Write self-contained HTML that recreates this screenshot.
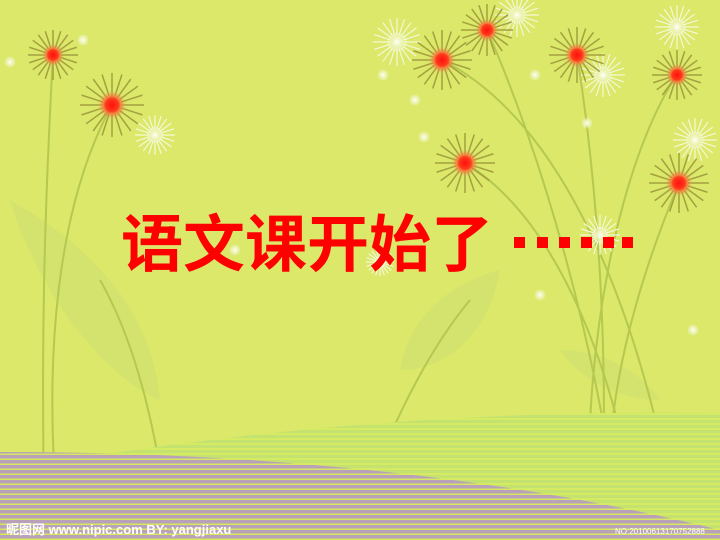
<!DOCTYPE html>
<html><head><meta charset="utf-8"><style>
html,body{margin:0;padding:0;width:720px;height:540px;overflow:hidden;background:#dbe86a}
svg{display:block}
</style></head><body>
<svg id="s" width="720" height="540" viewBox="0 0 720 540">
<defs>
<radialGradient id="rg"><stop offset="0" stop-color="#ff1010"/><stop offset="0.45" stop-color="#ff3a1a"/><stop offset="1" stop-color="#f0b060" stop-opacity="0"/></radialGradient>
<radialGradient id="wg"><stop offset="0" stop-color="#ffffff"/><stop offset="0.4" stop-color="#f4f8d0" stop-opacity="0.8"/><stop offset="1" stop-color="#ffffff" stop-opacity="0"/></radialGradient>
<pattern id="stripeP" width="4" height="5" patternUnits="userSpaceOnUse"><rect width="4" height="5" fill="#b9a2b9"/><rect y="3.5" width="4" height="1.5" fill="#d6e85e"/></pattern>
<pattern id="stripeG" width="4" height="5" patternUnits="userSpaceOnUse"><rect width="4" height="5" fill="#c4e270"/><rect y="3" width="4" height="2" fill="#d6ea62"/></pattern>
</defs>
<g id="leaves" fill="#cfe070" opacity="0.6">
<path d="M10,200 C80,240 150,300 160,400 C110,380 40,300 10,200Z"/>
<path d="M400,370 C410,310 460,280 500,270 C490,330 450,370 400,370Z"/>
<path d="M560,350 C600,350 640,370 660,400 C620,400 580,380 560,350Z"/>
</g>
<g id="stems" fill="none" stroke="#b5c850" stroke-width="2">
<path d="M53,55 C45,200 40,350 45,540"/>
<path d="M112,105 C60,200 40,350 60,540"/>
<path d="M442,60 C560,120 640,300 680,540"/>
<path d="M487,30 C540,150 600,350 620,540"/>
<path d="M577,55 C600,200 610,380 600,540"/>
<path d="M677,75 C620,160 580,350 590,540"/>
<path d="M465,163 C560,220 620,380 640,540"/>
<path d="M679,183 C630,300 600,420 610,540"/>
<path d="M100,280 C140,350 160,450 170,540"/>
<path d="M470,300 C420,360 380,450 350,540"/>
</g>
<path d="M100,455 C300,425 500,410 720,413 L720,540 L100,540Z" fill="url(#stripeG)"/>
<path d="M0,452 C250,452 500,475 720,530 L720,540 L0,540Z" fill="url(#stripeP)"/>
<g id="fl"></g>
<text x="121" y="266" font-family="'Liberation Sans','Noto Sans CJK SC',sans-serif" font-weight="bold" font-size="62" fill="#ff0000">语文课开始了</text>
<g fill="#ff0000">
<rect x="514" y="237" width="11" height="11"/><rect x="537" y="237" width="11" height="11"/><rect x="559" y="237" width="11" height="11"/><rect x="581" y="237" width="11" height="11"/><rect x="603" y="237" width="11" height="11"/><rect x="622" y="237" width="11" height="11"/>
</g>
<text x="6" y="534" font-family="'Liberation Sans','Noto Sans CJK SC',sans-serif" font-size="13" font-weight="bold" fill="#ffffff">昵图网 www.nipic.com   BY: yangjiaxu</text>
<text x="615" y="534" font-family="'Liberation Sans',sans-serif" font-size="8" fill="#ffffff">NO:20100613170752888</text>
</svg>
<script>
const red=[[53,55,25],[112,105,32],[442,60,30],[487,30,26],[577,55,28],[677,75,25],[465,163,30],[679,183,30]];
const white=[[397,42,24],[517,15,22],[155,135,20],[603,75,22],[677,27,22],[695,140,22],[600,235,20],[380,262,14]];
const dots=[[83,40],[10,62],[383,75],[415,100],[535,75],[424,137],[587,123],[540,295],[693,330],[235,250]];
const g=document.getElementById('fl');const NS='http://www.w3.org/2000/svg';
function flower(c,col,grad,w,name){
 const grp=document.createElementNS(NS,'g');
 
 
 for(let i=0;i<20;i++){const a=i*Math.PI/10;const l=document.createElementNS(NS,'line');
  l.setAttribute('x1',c[0]+Math.cos(a)*c[2]*0.3);l.setAttribute('y1',c[1]+Math.sin(a)*c[2]*0.3);
  l.setAttribute('x2',c[0]+Math.cos(a)*c[2]);l.setAttribute('y2',c[1]+Math.sin(a)*c[2]);
  l.setAttribute('stroke',col);l.setAttribute('stroke-width',w);grp.appendChild(l);}
 const ci=document.createElementNS(NS,'circle');ci.setAttribute('cx',c[0]);ci.setAttribute('cy',c[1]);ci.setAttribute('r',c[2]*0.45);ci.setAttribute('fill',grad);grp.appendChild(ci);
 g.appendChild(grp);}
white.forEach(c=>flower(c,'#f4f8d8','url(#wg)',1.2,'white-flower'));
red.forEach(c=>flower(c,'#a4a040','url(#rg)',1.5,'red-flower'));
dots.forEach(d=>{const ci=document.createElementNS(NS,'circle');ci.setAttribute('cx',d[0]);ci.setAttribute('cy',d[1]);ci.setAttribute('r',6);ci.setAttribute('fill','url(#wg)');


g.appendChild(ci);});
</script>
</body></html>
